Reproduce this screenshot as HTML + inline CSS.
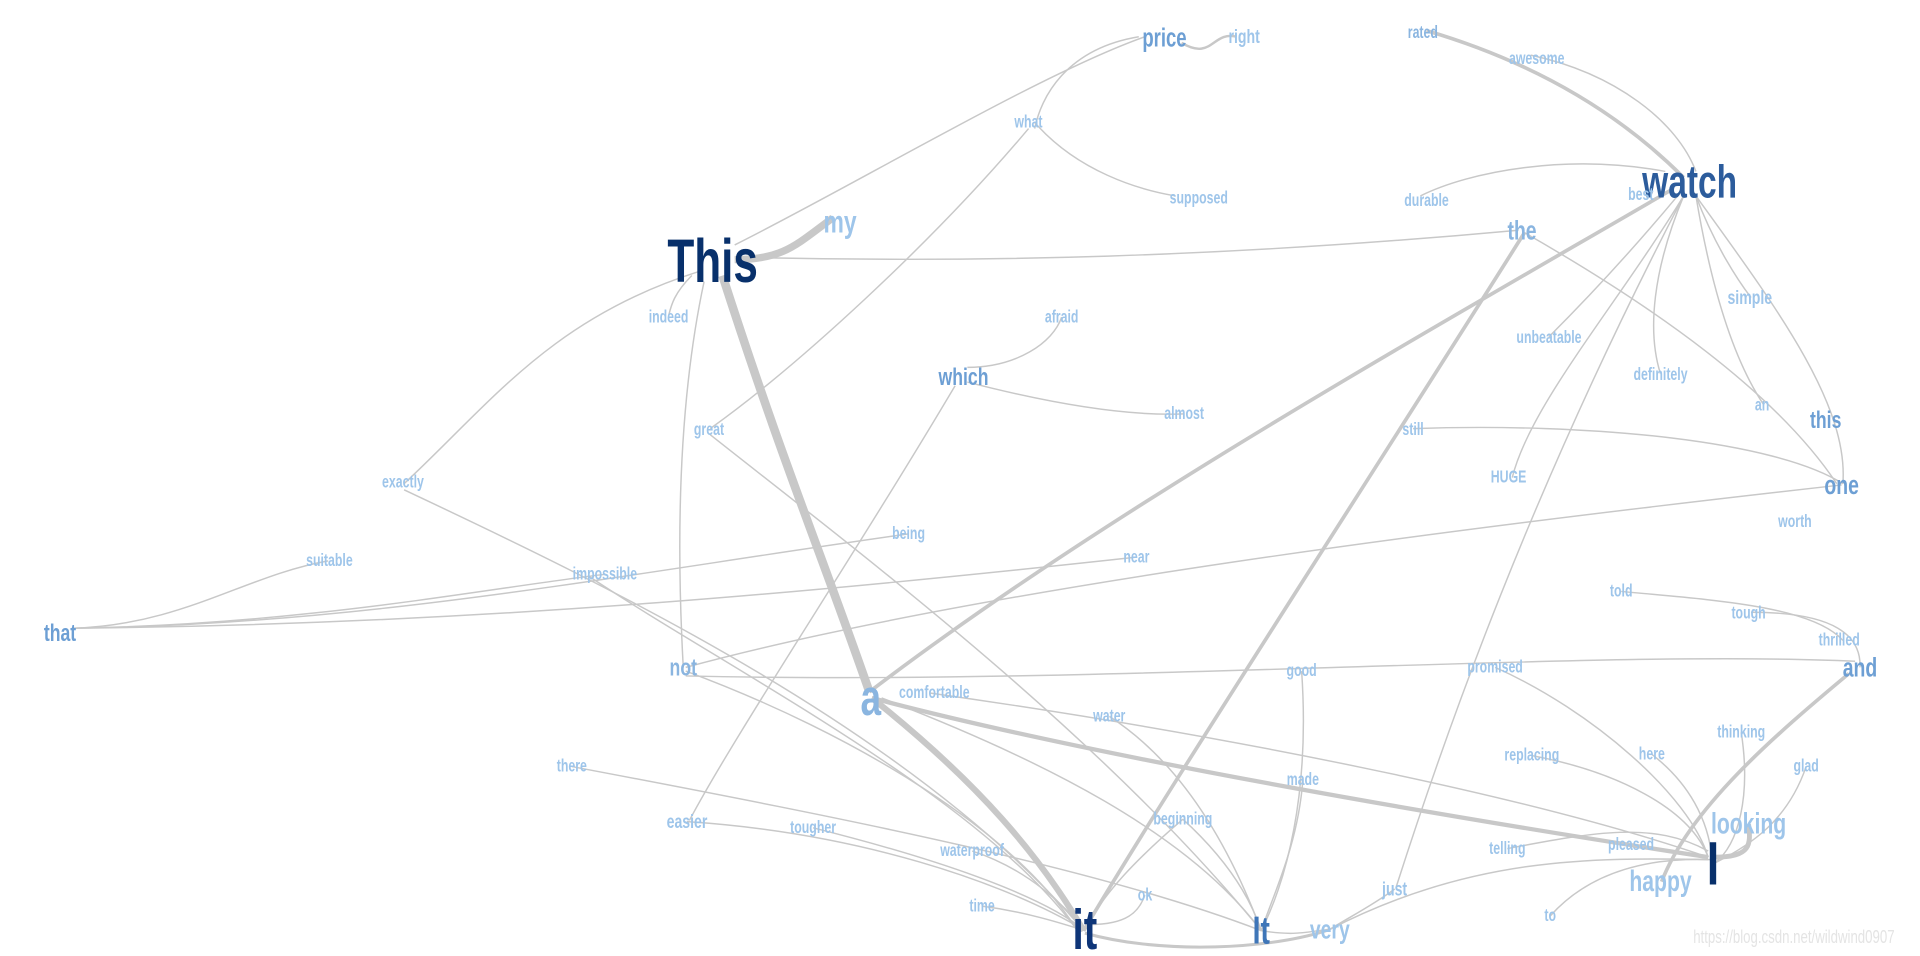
<!DOCTYPE html>
<html><head><meta charset="utf-8"><style>
html,body{margin:0;padding:0;background:#fff;width:1920px;height:956px;overflow:hidden}
svg{display:block}
text{font-family:"Liberation Sans Narrow","Liberation Sans",sans-serif;font-weight:bold;text-anchor:middle;dominant-baseline:central;transform-box:fill-box;transform-origin:center;transform:scaleX(0.72)}
.e{fill:none;stroke:#c8c8c8;stroke-width:1.2}
.s{fill:#9ec5ea;font-size:14px}
.m{fill:#6d9fd4}
</style></head><body>
<svg width="1920" height="956" viewBox="0 0 1568 780.7" preserveAspectRatio="none">
<g class="e">
<path d="M600,200 C700,150 850,60 935,30"/>
<path d="M965,35 C990,50 990,25 1010,30" stroke-width="2"/>
<path d="M930,30 C870,40 850,80 845,105"/>
<path d="M845,100 C880,140 930,155 960,160"/>
<path d="M600,210 C800,215 1000,210 1240,188"/>
<path d="M1245,190 C1350,250 1450,320 1500,395"/>
<path d="M1360,140 C1280,125 1200,140 1160,160"/>
<path d="M1165,25 C1250,50 1320,90 1375,145" stroke-width="3"/>
<path d="M1250,45 C1320,60 1370,100 1385,140"/>
<path d="M1370,160 C1320,220 1280,260 1265,275"/>
<path d="M1375,160 C1320,250 1250,330 1235,390"/>
<path d="M1375,160 C1350,220 1345,270 1356,305"/>
<path d="M1375,160 C1250,400 1180,600 1140,725"/>
<path d="M1385,160 C1400,200 1420,230 1430,243"/>
<path d="M1385,160 C1400,250 1420,300 1440,330"/>
<path d="M1385,160 C1450,250 1510,330 1505,395"/>
<path d="M1365,155 C1150,280 900,420 710,565" stroke-width="3"/>
<path d="M565,225 C550,240 548,250 546,258"/>
<path d="M570,222 C450,260 400,330 330,395"/>
<path d="M575,230 C560,300 550,400 558,545"/>
<path d="M590,225 C640,380 670,450 710,565" stroke-width="7"/>
<path d="M600,212 C640,212 650,200 680,178" stroke-width="6"/>
<path d="M712,570 C800,640 850,700 885,760" stroke-width="5"/>
<path d="M1245,190 C1100,420 950,650 885,760" stroke-width="3"/>
<path d="M712,570 C900,620 1200,670 1395,700" stroke-width="3.5"/>
<path d="M790,300 C830,300 860,280 867,259"/>
<path d="M790,312 C860,330 920,340 967,338"/>
<path d="M780,315 C700,450 600,600 563,670"/>
<path d="M840,105 C760,200 650,300 580,350"/>
<path d="M580,355 C700,450 900,600 1030,760"/>
<path d="M1154,350 C1300,345 1450,360 1505,395"/>
<path d="M330,400 C500,480 750,600 885,760"/>
<path d="M60,513 C150,510 200,470 268,458"/>
<path d="M60,513 C300,510 500,470 742,436"/>
<path d="M60,513 C400,510 700,480 928,455"/>
<path d="M60,513 C250,510 400,480 494,469"/>
<path d="M1504,396 C1200,430 800,480 560,545"/>
<path d="M560,552 C900,560 1300,530 1515,540"/>
<path d="M1324,483 C1400,490 1480,495 1505,523"/>
<path d="M1430,500 C1500,500 1520,520 1519,545"/>
<path d="M1510,550 C1450,600 1380,660 1357,720" stroke-width="3"/>
<path d="M480,470 C600,550 800,650 880,760"/>
<path d="M560,548 C700,600 830,680 880,760"/>
<path d="M720,570 C850,620 970,680 1030,760"/>
<path d="M760,566 C1000,600 1250,650 1395,700"/>
<path d="M906,585 C960,620 1000,680 1030,760"/>
<path d="M1221,545 C1300,580 1380,650 1395,700"/>
<path d="M1251,617 C1320,630 1380,660 1395,700"/>
<path d="M1349,616 C1380,640 1395,670 1398,700"/>
<path d="M1422,598 C1430,650 1420,690 1400,705"/>
<path d="M1475,626 C1460,670 1430,690 1400,705"/>
<path d="M1400,700 C1430,700 1430,690 1428,673" stroke-width="4"/>
<path d="M1231,693 C1300,680 1350,670 1395,695"/>
<path d="M1086,759 C1200,700 1300,700 1395,702"/>
<path d="M1266,748 C1300,710 1350,700 1398,702"/>
<path d="M1063,548 C1070,650 1050,720 1030,760"/>
<path d="M1064,637 C1060,690 1040,730 1030,760"/>
<path d="M966,669 C930,700 900,730 886,760"/>
<path d="M966,669 C1000,700 1020,730 1030,760"/>
<path d="M467,626 C700,670 900,710 1030,760"/>
<path d="M561,671 C700,680 820,720 886,760"/>
<path d="M664,676 C760,700 850,730 886,760"/>
<path d="M794,695 C840,710 870,740 886,760"/>
<path d="M802,740 C840,745 870,755 886,760"/>
<path d="M935,731 C930,745 920,755 890,755"/>
<path d="M886,762 C950,780 1040,775 1086,759" stroke-width="2.5"/>
<path d="M1030,760 C1060,765 1070,760 1086,759"/>
<path d="M1139,726 C1120,740 1100,750 1086,759"/>
</g>
<text x="582" y="214" style="fill:#08306b;font-size:50px">This</text>
<text x="686" y="181" style="fill:#9ec5ea;font-size:26px">my</text>
<text x="951" y="31" class="m" style="font-size:21px">price</text>
<text x="1016" y="30" class="s" style="font-size:16px">right</text>
<text x="840" y="100" class="s">what</text>
<text x="979" y="162" class="s">supposed</text>
<text x="1162" y="27" class="s" style="fill:#8ab5e0">rated</text>
<text x="1255" y="48" class="s">awesome</text>
<text x="1380" y="148" style="fill:#2c5c9c;font-size:38px">watch</text>
<text x="1340" y="159" class="s">best</text>
<text x="1165" y="164" class="s">durable</text>
<text x="1243" y="188" style="fill:#8ab5e0;font-size:22px">the</text>
<text x="546" y="259" class="s">indeed</text>
<text x="867" y="259" class="s">afraid</text>
<text x="787" y="308" class="m" style="font-size:20px">which</text>
<text x="967" y="338" class="s">almost</text>
<text x="1265" y="276" class="s">unbeatable</text>
<text x="1429" y="243" class="s" style="font-size:16px">simple</text>
<text x="1356" y="306" class="s">definitely</text>
<text x="1439" y="331" class="s">an</text>
<text x="1491" y="343" class="m" style="font-size:20px">this</text>
<text x="1504" y="396" class="m" style="font-size:22px">one</text>
<text x="579" y="351" class="s">great</text>
<text x="1154" y="351" class="s">still</text>
<text x="1232" y="390" class="s">HUGE</text>
<text x="329" y="394" class="s">exactly</text>
<text x="1466" y="426" class="s">worth</text>
<text x="742" y="436" class="s">being</text>
<text x="928" y="455" class="s">near</text>
<text x="269" y="458" class="s">suitable</text>
<text x="494" y="469" class="s">impossible</text>
<text x="1324" y="483" class="s">told</text>
<text x="1428" y="501" class="s">tough</text>
<text x="1502" y="523" class="s">thrilled</text>
<text x="49" y="517" class="m" style="font-size:20px">that</text>
<text x="1519" y="545" class="m" style="font-size:22px">and</text>
<text x="558" y="545" style="fill:#8ab5e0;font-size:20px">not</text>
<text x="1063" y="548" class="s">good</text>
<text x="1221" y="545" class="s">promised</text>
<text x="711" y="570" style="fill:#8ab5e0;font-size:42px">a</text>
<text x="763" y="566" class="s">comfortable</text>
<text x="906" y="585" class="s">water</text>
<text x="1251" y="617" class="s">replacing</text>
<text x="1349" y="616" class="s">here</text>
<text x="1422" y="598" class="s">thinking</text>
<text x="1475" y="626" class="s">glad</text>
<text x="467" y="626" class="s">there</text>
<text x="1064" y="637" class="s">made</text>
<text x="561" y="671" class="s" style="font-size:16px">easier</text>
<text x="664" y="676" class="s">tougher</text>
<text x="966" y="669" class="s">beginning</text>
<text x="1428" y="673" style="fill:#9ec5ea;font-size:24px">looking</text>
<text x="794" y="695" class="s">waterproof</text>
<text x="1231" y="693" class="s">telling</text>
<text x="1332" y="690" class="s">pleased</text>
<text x="1399" y="706" style="fill:#08306b;font-size:50px">I</text>
<text x="1356" y="720" style="fill:#9ec5ea;font-size:24px">happy</text>
<text x="1139" y="726" class="s" style="font-size:16px">just</text>
<text x="802" y="740" class="s">time</text>
<text x="935" y="731" class="s">ok</text>
<text x="1266" y="748" class="s">to</text>
<text x="886" y="760" style="fill:#0e3578;font-size:46px">it</text>
<text x="1030" y="760" style="fill:#3f76b8;font-size:32px">It</text>
<text x="1086" y="759" style="fill:#9ec5ea;font-size:22px">very</text>
<text x="1465" y="766" style="fill:#e4e4e4;font-size:15px;font-weight:normal">https://blog.csdn.net/wildwind0907</text>
</svg>
</body></html>
